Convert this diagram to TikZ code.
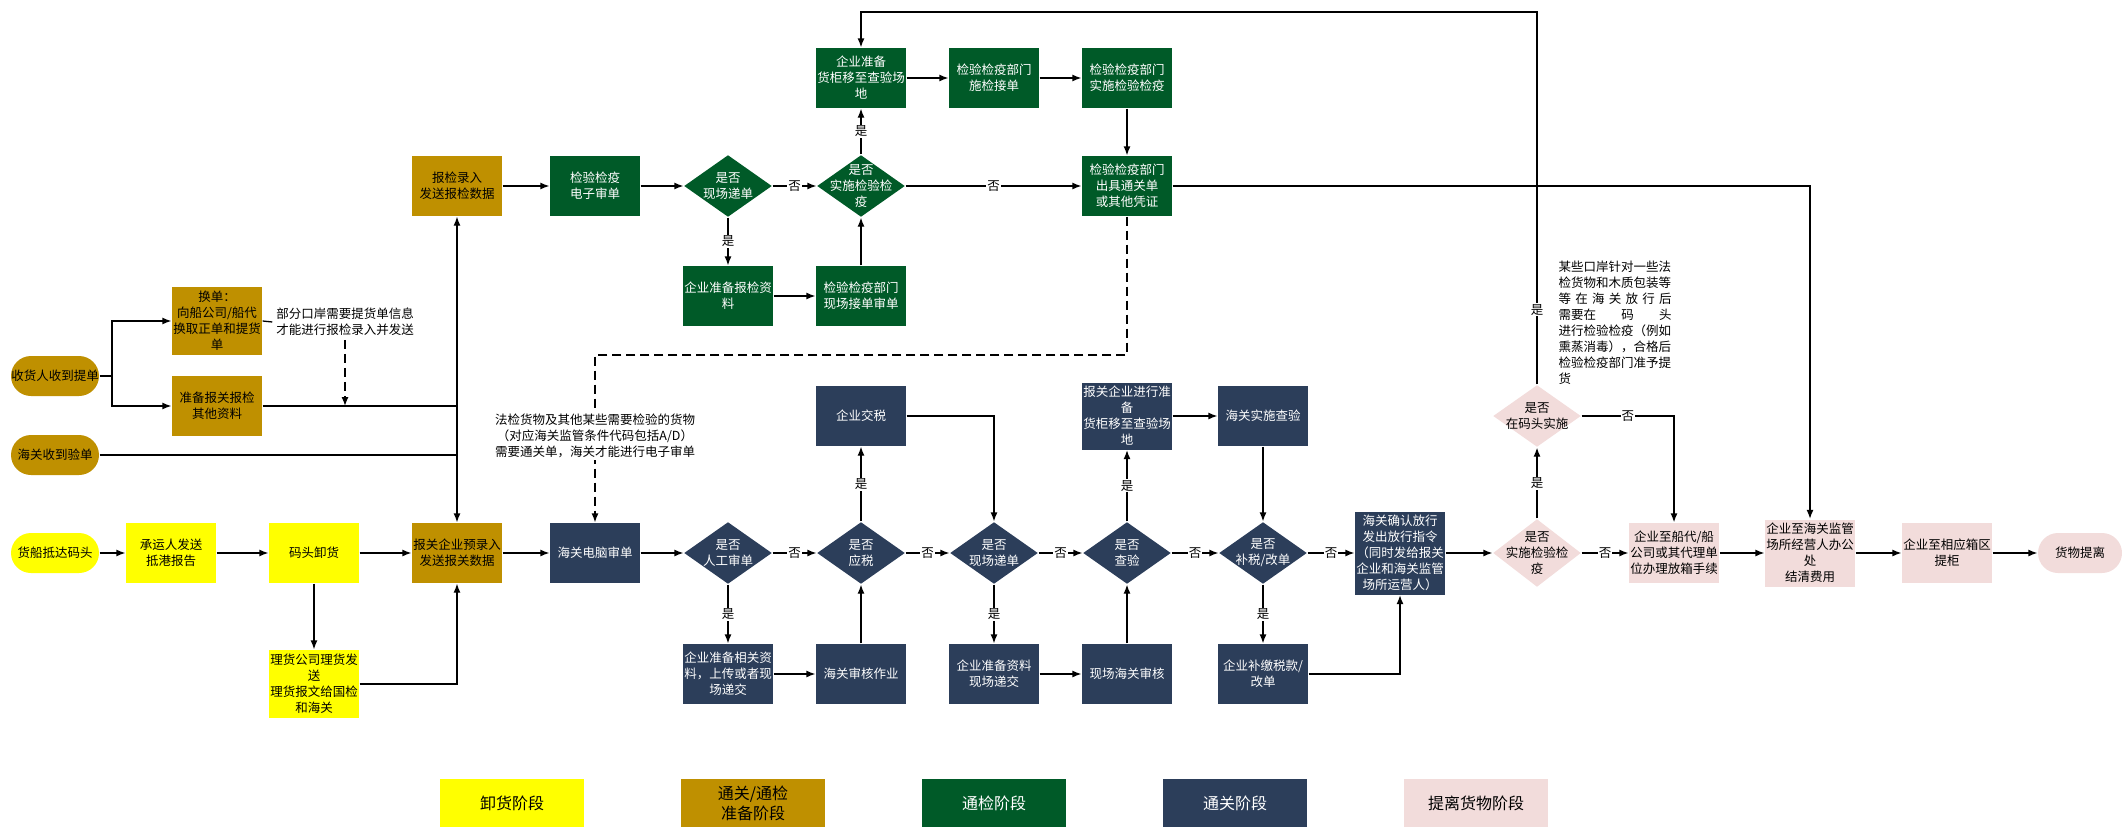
\documentclass[tikz,border=0pt]{standalone}
\usepackage{fontspec}
\setmainfont{Noto Sans CJK SC}
\usepackage{color}
\usepackage{tikz}
\usetikzlibrary{shapes.geometric,arrows.meta}
\definecolor{xhyellow}{RGB}{255,255,0}
\definecolor{zbgold}{RGB}{191,144,0}
\definecolor{tjgreen}{RGB}{0,90,40}
\definecolor{tgnavy}{RGB}{44,62,90}
\definecolor{tlpink}{RGB}{242,220,219}

\begin{document}
\begin{tikzpicture}[x=1pt, y=-1pt, line width=1.3pt, >={Latex[length=9pt,width=7pt]}, % 座標はピクセル単位、y は下向き
    zi/.style={font=\fontsize{12.5pt}{16pt}\selectfont, align=center}, % 文字
    kuang/.style={zi, rectangle, minimum width=90pt, minimum height=60pt, inner sep=0pt}, % 四角
    yuan/.style={zi, rectangle, rounded corners=20pt, minimum width=88pt, minimum height=40pt, inner sep=0pt}, % 角丸
    ling/.style={diamond, minimum width=88pt, minimum height=62pt, inner sep=0pt}, % 判断の菱形
    xh/.style={fill=xhyellow}, % 卸货阶段
    zb/.style={fill=zbgold}, % 准备阶段
    tj/.style={fill=tjgreen, text=white}, % 通检阶段
    tg/.style={fill=tgnavy, text=white}, % 通关阶段
    tl/.style={fill=tlpink}, % 提离阶段
    bai/.style={zi, text=white}, % 菱形の白文字
    hei/.style={zi}, % 菱形の黒文字
    yn/.style={zi, fill=white, inner sep=1pt}, % 是・否
    tuli/.style={font=\fontsize{16pt}{20pt}\selectfont, align=center, rectangle, minimum width=144pt, minimum height=48pt, inner sep=0pt}] % 凡例
    \useasboundingbox (0,0) rectangle (2122,827); % 画像の大きさ

    % 卸货・准备
    \node[yuan, xh] (s1) at (55,553) {货船抵达码头};
    \node[kuang, xh] (s2) at (171,553) {承运人发送\\抵港报告};
    \node[kuang, xh] (s3) at (314,553) {码头卸货};
    \node[kuang, xh, minimum height=68pt] (s4) at (314,684) {理货公司理货发\\送\\理货报文给国检\\和海关};
    \node[kuang, zb] (p1) at (457,553) {报关企业预录入\\发送报关数据};
    \node[kuang, zb] (p2) at (457,186) {报检录入\\发送报检数据};
    \node[kuang, zb, minimum height=68pt] (p3) at (217,321) {换单：\\向船公司/船代\\换取正单和提货\\单};
    \node[kuang, zb] (p4) at (217,406) {准备报关报检\\其他资料};
    \node[yuan, zb] (r1) at (55,376) {收货人收到提单};
    \node[yuan, zb] (r2) at (55,455) {海关收到验单};
    \node[zi] (t1) at (345,322) {部分口岸需要提货单信息\\才能进行报检录入并发送};

    % 通检
    \node[kuang, tj] (g1) at (595,186) {检验检疫\\电子审单};
    \node[ling, tj, label={[bai]center:{是否\\现场递单}}] (g2) at (728,186) {};
    \node[ling, tj, label={[bai]center:{是否\\实施检验检\\疫}}] (g3) at (861,186) {};
    \node[kuang, tj] (g4) at (861,78) {企业准备\\货柜移至查验场\\地};
    \node[kuang, tj] (g5) at (994,78) {检验检疫部门\\施检接单};
    \node[kuang, tj] (g6) at (1127,78) {检验检疫部门\\实施检验检疫};
    \node[kuang, tj] (g7) at (1127,186) {检验检疫部门\\出具通关单\\或其他凭证};
    \node[kuang, tj] (g8) at (728,296) {企业准备报检资\\料};
    \node[kuang, tj] (g9) at (861,296) {检验检疫部门\\现场接单审单};

    % 通关
    \node[kuang, tg] (n1) at (595,553) {海关电脑审单};
    \node[ling, tg, label={[bai]center:{是否\\人工审单}}] (n2) at (728,553) {};
    \node[ling, tg, label={[bai]center:{是否\\应税}}] (n3) at (861,553) {};
    \node[kuang, tg] (n4) at (861,416) {企业交税};
    \node[kuang, tg] (n5) at (728,674) {企业准备相关资\\料，上传或者现\\场递交};
    \node[kuang, tg] (n6) at (861,674) {海关审核作业};
    \node[ling, tg, label={[bai]center:{是否\\现场递单}}] (n7) at (994,553) {};
    \node[kuang, tg] (n8) at (994,674) {企业准备资料\\现场递交};
    \node[ling, tg, label={[bai]center:{是否\\查验}}] (n9) at (1127,553) {};
    \node[kuang, tg, minimum height=67pt] (n10) at (1127,416) {报关企业进行准\\备\\货柜移至查验场\\地};
    \node[kuang, tg] (n11) at (1127,674) {现场海关审核};
    \node[kuang, tg] (n12) at (1263,416) {海关实施查验};
    \node[ling, tg, label={[bai]center:{是否\\补税/改单}}] (n13) at (1263,553) {};
    \node[kuang, tg] (n14) at (1263,674) {企业补缴税款/\\改单};
    \node[kuang, tg, minimum height=83pt] (n15) at (1400,553) {海关确认放行\\发出放行指令\\（同时发给报关\\企业和海关监管\\场所运营人）};

    % 提离
    \node[ling, tl, minimum height=68pt, label={[hei]center:{是否\\实施检验检\\疫}}] (k1) at (1537,553) {};
    \node[ling, tl, label={[hei]center:{是否\\在码头实施}}] (k2) at (1537,416) {};
    \node[kuang, tl] (k3) at (1674,553) {企业至船代/船\\公司或其代理单\\位办理放箱手续};
    \node[kuang, tl, minimum height=67pt] (k4) at (1810,553) {企业至海关监管\\场所经营人办公\\处\\结清费用};
    \node[kuang, tl] (k5) at (1947,553) {企业至相应箱区\\提柜};
    \node[yuan, tl, minimum width=84pt] (k6) at (2080,553) {货物提离};

    \coordinate (fen) at (112,376); % 分岐点
    \coordinate (huitop) at (1537,12); % 上の戻り線
    \coordinate (xuzhe) at (1127,355); % 破線の折れ点

    % 下の本流
    \draw[->] (s1) -- (s2);
    \draw[->] (s2) -- (s3);
    \draw[->] (s3) -- (p1);
    \draw[->] (p1) -- (n1);
    \draw[->] (n1) -- (n2);
    \draw[->] (n2) -- node[yn]{否} (n3);
    \draw[->] (n3) -- node[yn]{否} (n7);
    \draw[->] (n7) -- node[yn]{否} (n9);
    \draw[->] (n9) -- node[yn]{否} (n13);
    \draw[->] (n13) -- node[yn]{否} (n15);
    \draw[->] (n15) -- (k1);
    \draw[->] (k1) -- node[yn]{否} (k3);
    \draw[->] (k3) -- (k4);
    \draw[->] (k4) -- (k5);
    \draw[->] (k5) -- (k6);
    \draw[->] (s3) -- (s4);
    \draw[->] (s4.east) -| (p1.south);

    % 左の入口
    \draw (r1.east) -- (fen);
    \draw[->] (fen) |- (p3.west);
    \draw[->] (fen) |- (p4.west);
    \draw (p3.east) -- (t1.west);
    \draw[->, dash pattern=on 9pt off 5pt] (t1.south) -- (t1.south |- p4.east);
    \draw (p4.east) -- (p4.east -| p2.south);
    \draw (r2.east) -- (r2.east -| p2.south);
    \draw[<->] (p2) -- (p1);

    % 通检の流れ
    \draw[->] (p2) -- (g1);
    \draw[->] (g1) -- (g2);
    \draw[->] (g2) -- node[yn]{否} (g3);
    \draw[->] (g2) -- node[yn]{是} (g8);
    \draw[->] (g8) -- (g9);
    \draw[->] (g9) -- (g3);
    \draw[->] (g3) -- node[yn]{是} (g4);
    \draw[->] (g4) -- (g5);
    \draw[->] (g5) -- (g6);
    \draw[->] (g6) -- (g7);
    \draw[->] (g3) -- node[yn]{否} (g7);
    \draw[->] (g7.east) -| (k4.north);
    \draw[->, dash pattern=on 9pt off 5pt] (g7.south) -- (xuzhe) -| (n1.north);
    \node[zi, fill=white, inner sep=2pt] (t2) at (595,436) {法检货物及其他某些需要检验的货物\\（对应海关监管条件代码包括A/D）\\需要通关单，海关才能进行电子审单};

    % 通关の流れ
    \draw[->] (n2) -- node[yn]{是} (n5);
    \draw[->] (n5) -- (n6);
    \draw[->] (n6) -- (n3);
    \draw[->] (n3) -- node[yn]{是} (n4);
    \draw[->] (n4.east) -| (n7.north);
    \draw[->] (n7) -- node[yn]{是} (n8);
    \draw[->] (n8) -- (n11);
    \draw[->] (n11) -- (n9);
    \draw[->] (n9) -- node[yn]{是} (n10);
    \draw[->] (n10) -- (n12);
    \draw[->] (n12) -- (n13);
    \draw[->] (n13) -- node[yn]{是} (n14);
    \draw[->] (n14.east) -| (n15.south);

    % 提离の流れ
    \draw[->] (k1) -- node[yn]{是} (k2);
    \draw[->] (k2.east) -- node[yn]{否} (k2.east -| k3.north) -- (k3.north);
    \draw[->] (k2.north) -- node[yn, pos=0.2]{是} (huitop) -| (g4.north);
    \node[zi, align=left, text width=113pt] (t3) at (1615,323) {某些口岸针对一些法\\检货物和木质包装等\\\makebox[113pt][s]{等\hfill 在\hfill 海\hfill 关\hfill 放\hfill 行\hfill 后}\\\makebox[113pt][s]{需要在\hfill 码\hfill 头}\\进行检验检疫（例如\\熏蒸消毒），合格后\\检验检疫部门准予提\\货};

    % 凡例
    \node[tuli, xh] (l1) at (512,803) {卸货阶段};
    \node[tuli, zb] (l2) at (753,803) {通关/通检\\准备阶段};
    \node[tuli, tj] (l3) at (994,803) {通检阶段};
    \node[tuli, tg] (l4) at (1235,803) {通关阶段};
    \node[tuli, tl] (l5) at (1476,803) {提离货物阶段};
\end{tikzpicture}
\end{document}
